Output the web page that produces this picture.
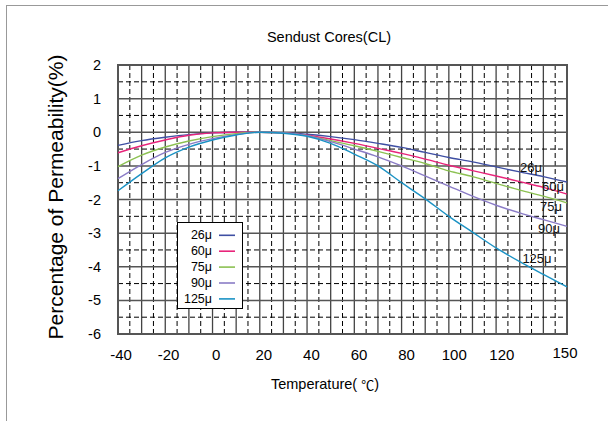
<!DOCTYPE html>
<html lang="en">
  <head>
    <meta charset="UTF-8" />
    <title>Sendust Cores(CL)</title>
    <script src="https://d3js.org/d3.v7.min.js"></script>
    <style>
      body {
        margin: 0;
        background: #fff;
        font-family: "Liberation Sans", Arial, sans-serif;
      }
    </style>
  </head>
  <body>
    <div id="chart"></div>
    <script>
      const temps = [-40, -30, -20, -10, 0, 10, 20, 30, 40, 50, 60, 70, 80, 90, 100, 110, 120, 130, 140, 150];
      const u26 = [-0.39, -0.25, -0.15, -0.07, -0.02, 0, 0, -0.01, -0.06, -0.13, -0.22, -0.33, -0.45, -0.6, -0.75, -0.88, -1.03, -1.18, -1.32, -1.48];
      const u60 = [-0.61, -0.4, -0.23, -0.09, -0.02, 0, 0, -0.02, -0.09, -0.2, -0.33, -0.48, -0.63, -0.8, -0.98, -1.14, -1.3, -1.47, -1.64, -1.84];
      const u75 = [-1.02, -0.68, -0.44, -0.26, -0.13, -0.04, 0, -0.02, -0.1, -0.25, -0.4, -0.57, -0.75, -0.93, -1.15, -1.32, -1.52, -1.72, -1.9, -2.1];
      const u90 = [-1.38, -0.96, -0.6, -0.36, -0.19, -0.07, 0, -0.02, -0.1, -0.28, -0.5, -0.73, -1.0, -1.3, -1.6, -1.9, -2.17, -2.4, -2.6, -2.8];
      const u125 = [-1.74, -1.23, -0.76, -0.44, -0.23, -0.08, 0, -0.03, -0.12, -0.33, -0.65, -1.0, -1.5, -1.98, -2.5, -2.97, -3.44, -3.85, -4.23, -4.6];

      const names = ["26μ", "60μ", "75μ", "90μ", "125μ"];
      const colors = ["#3f4fa3", "#e8247a", "#8cc152", "#8a7bc6", "#1b92c4"];
      const xTicks = [-40, -20, 0, 20, 40, 60, 80, 100, 120, 150];
      const yTicks = [2, 1, 0, -1, -2, -3, -4, -5, -6];
      // where the curve names sit, in data units
      const labelAt = [[134.8, -1.04], [144.1, -1.6], [143.2, -2.22], [142.4, -2.86], [137.3, -3.75]];

      const series = [u26, u60, u75, u90, u125].map((vals, i) => ({
        name: names[i],
        color: colors[i],
        points: temps.map((t, j) => [t, vals[j]])
      }));

      const width = 608;
      const height = 421;
      const margin = { top: 65, right: 41, bottom: 87, left: 118 };

      const svg = d3
        .select("#chart")
        .append("svg")
        .attr("width", width)
        .attr("height", height);

      // outer frame
      svg
        .append("rect")
        .attr("x", 6.5)
        .attr("y", 5.5)
        .attr("width", 640)
        .attr("height", 440)
        .attr("fill", "none")
        .attr("stroke", "#999");

      const x = d3
        .scaleLinear()
        .domain([-40, 150])
        .range([margin.left, width - margin.right]);
      const y = d3
        .scaleLinear()
        .domain([-6, 2])
        .range([height - margin.bottom, margin.top]);

      const grid = svg.append("g");
      d3.range(-35, 150, 5).forEach((t) => {
        const solid = t % 10 === 0;
        grid
          .append("line")
          .attr("x1", x(t))
          .attr("x2", x(t))
          .attr("y1", y(2))
          .attr("y2", y(-6))
          .attr("stroke", solid ? "#444" : "#000")
          .attr("stroke-width", solid ? 1.3 : 1)
          .attr("stroke-dasharray", solid ? null : "5,3");
      });
      d3.range(-5.5, 2, 0.5).forEach((v) => {
        const solid = Number.isInteger(v);
        grid
          .append("line")
          .attr("x1", x(-40))
          .attr("x2", x(150))
          .attr("y1", y(v))
          .attr("y2", y(v))
          .attr("stroke", solid ? "#555" : "#000")
          .attr("stroke-width", solid ? 1.5 : 1)
          .attr("stroke-dasharray", solid ? null : "5,3");
      });
      svg
        .append("rect")
        .attr("x", x(-40))
        .attr("y", y(2))
        .attr("width", x(150) - x(-40))
        .attr("height", y(-6) - y(2))
        .attr("fill", "none")
        .attr("stroke", "#555")
        .attr("stroke-width", 2);

      const line = d3
        .line()
        .x((d) => x(d[0]))
        .y((d) => y(d[1]))
        .curve(d3.curveMonotoneX);

      svg
        .append("g")
        .selectAll("path")
        .data(series)
        .join("path")
        .attr("d", (d) => line(d.points))
        .attr("fill", "none")
        .attr("stroke", (d) => d.color)
        .attr("stroke-width", 1.4);

      // curve names
      svg
        .append("g")
        .selectAll("text")
        .data(series)
        .join("text")
        .attr("x", (d, i) => x(labelAt[i][0]))
        .attr("y", (d, i) => y(labelAt[i][1]))
        .attr("text-anchor", "middle")
        .attr("dominant-baseline", "central")
        .style("font-size", "13px")
        .attr("fill", "#111")
        .text((d) => d.name);

      // axes (labels only)
      svg
        .append("g")
        .selectAll("text")
        .data(yTicks)
        .join("text")
        .attr("x", x(-40) - 17)
        .attr("y", (d) => y(d))
        .attr("text-anchor", "end")
        .attr("dominant-baseline", "central")
        .style("font-size", "14.5px")
        .text((d) => d);

      svg
        .append("g")
        .selectAll("text")
        .data(xTicks)
        .join("text")
        .attr("x", (d) => x(d) + (d === 150 ? -2 : 3 + (d + 40) * 0.017))
        .attr("y", (d) => y(-6) + (d === 150 ? 18 : 20))
        .attr("text-anchor", "middle")
        .attr("dominant-baseline", "central")
        .style("font-size", "15px")
        .text((d) => d);

      svg
        .append("text")
        .attr("x", 329)
        .attr("y", 37)
        .attr("text-anchor", "middle")
        .attr("dominant-baseline", "central")
        .style("font-size", "14.5px")
        .text("Sendust Cores(CL)");

      const xTitle = svg
        .append("text")
        .attr("x", 325)
        .attr("y", 384)
        .attr("text-anchor", "middle")
        .attr("dominant-baseline", "central")
        .style("font-size", "14.5px")
        .style("white-space", "pre");
      xTitle.append("tspan").text("Temperature( ");
      xTitle
        .append("tspan")
        .style("font-family", "'Noto Sans CJK SC', sans-serif")
        .style("font-size", "13px")
        .text("℃");
      xTitle.append("tspan").text(")");

      svg
        .append("text")
        .attr("transform", "translate(55,197) rotate(-90)")
        .attr("text-anchor", "middle")
        .attr("dominant-baseline", "central")
        .style("font-size", "21px")
        .text("Percentage of Permeability(%)");

      // legend
      const legend = svg.append("g").attr("transform", "translate(177,222)");
      legend
        .append("rect")
        .attr("x", 0.5)
        .attr("y", 0.5)
        .attr("width", 65)
        .attr("height", 86)
        .attr("fill", "#fff")
        .attr("stroke", "#000");
      const row = legend
        .selectAll("g")
        .data(series)
        .join("g")
        .attr("transform", (d, i) => `translate(0,${13.3 + i * 15.9})`);
      row
        .append("text")
        .attr("x", 35)
        .attr("text-anchor", "end")
        .attr("dominant-baseline", "central")
        .style("font-size", "12.5px")
        .text((d) => d.name);
      row
        .append("line")
        .attr("x1", 42)
        .attr("x2", 58)
        .attr("stroke", (d) => d.color)
        .attr("stroke-width", 1.6);
    </script>
  </body>
</html>
